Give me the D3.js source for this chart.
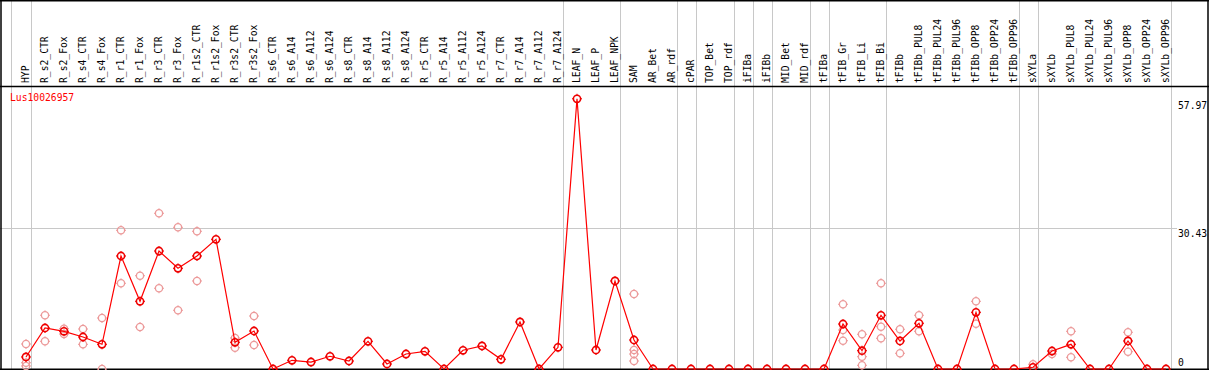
<!DOCTYPE html>
<html><head><meta charset="utf-8">
<script src="https://cdn.jsdelivr.net/npm/d3@7"></script>
<style>
html,body{margin:0;padding:0;background:#fff;}
svg{display:block;}
text{font-family:"DejaVu Sans Mono","Liberation Mono",monospace;font-size:9.7px;}
</style></head><body>
<svg id="c" width="1209" height="370"></svg>
<script>
const categories = ["HYP","R_s2_CTR","R_s2_Fox","R_s4_CTR","R_s4_Fox","R_r1_CTR","R_r1_Fox","R_r3_CTR","R_r3_Fox","R_r1s2_CTR","R_r1s2_Fox","R_r3s2_CTR","R_r3s2_Fox","R_s6_CTR","R_s6_A14","R_s6_A112","R_s6_A124","R_s8_CTR","R_s8_A14","R_s8_A112","R_s8_A124","R_r5_CTR","R_r5_A14","R_r5_A112","R_r5_A124","R_r7_CTR","R_r7_A14","R_r7_A112","R_r7_A124","LEAF_N","LEAF_P","LEAF_NPK","SAM","AR_Bet","AR_rdf","cPAR","TOP_Bet","TOP_rdf","iFIBa","iFIBb","MID_Bet","MID_rdf","tFIBa","tFIB_Gr","tFIB_Li","tFIB_Bi","tFIBb","tFIBb_PUL8","tFIBb_PUL24","tFIBb_PUL96","tFIBb_OPP8","tFIBb_OPP24","tFIBb_OPP96","sXYLa","sXYLb","sXYLb_PUL8","sXYLb_PUL24","sXYLb_PUL96","sXYLb_OPP8","sXYLb_OPP24","sXYLb_OPP96"];

const means = [2.6,8.87,8.15,6.92,5.34,24.44,14.64,25.52,21.78,24.44,28.05,5.78,8.22,0,1.88,1.51,2.75,1.73,5.99,1.08,3.24,3.83,0,4.05,4.98,2.1,10.17,0,4.69,58.45,4.11,19.04,6.27,0,0,0,0,0,0,0,0,0,0,9.73,3.96,11.62,6.06,9.89,0,0,12.26,0,0,0.37,3.89,5.34,0,0,6.06,0,0];

const replicates = [
  [5.41,1.36,0.65],[11.62,5.99],[8.72,7.57],[8.65,5.34],[11.03,0],
  [30.0,18.54],[20.18,9.08],[33.68,17.46],[30.65,12.7],[29.79,19.04],[],
  [6.71,4.61],[11.46,5.19],
  [],[],[],[],[],[],[],[],[],[],[],[],[],[],[],[],
  [],[],[],
  [16.22,4.11,3.24,1.73],
  [],[],[],[],[],[],[],[],[],[],
  [14.0,8.44,6.12],[7.51,2.66,0.8],[18.54,9.15,6.64],
  [8.59,3.40],[11.62,8.15],[],[],[14.64,9.8],[],[],
  [1.02],[3.24],[8.15,2.53],[],[],[7.94,3.74],[],[]
];

// categories after which a group separator is drawn
const groupEnds = ["HYP","R_r7_A124","LEAF_NPK","AR_rdf","cPAR","TOP_rdf","iFIBa","iFIBb","MID_rdf","tFIBa","tFIB_Bi","tFIBb_OPP96","sXYLa","sXYLb_OPP96"];
const tickValues = [0, 30.43, 57.97];
const geneName = "Lus10026957";

const W = 1209, H = 370;
const svg = d3.select("#c");
const x = d3.scalePoint().domain(categories).range([26, 1166]);
const y = d3.scaleLinear().domain([0, 57.97]).range([369, 101]);
const step = x.step();

// grey grid
const grid = svg.append("g").attr("stroke", "#c8c8c8").attr("stroke-width", 1);
grid.append("line").attr("x1", Math.round(x(categories[0]) - step + 4.5) - 0.5).attr("x2", Math.round(x(categories[0]) - step + 4.5) - 0.5)
  .attr("y1", 0).attr("y2", H);
groupEnds.forEach(c => {
  const gx = Math.round(x(c) + 4.5) + 0.5;
  grid.append("line").attr("x1", gx).attr("x2", gx).attr("y1", 0).attr("y2", H);
});
tickValues.filter(v => v > 0 && v < 57.97).forEach(v => {
  const gy = Math.round(y(v)) + 0.5;
  grid.append("line").attr("x1", 0).attr("x2", 1177).attr("y1", gy).attr("y2", gy);
});

// frame
const frame = svg.append("g").attr("stroke", "#000").attr("stroke-width", 1.5);
frame.append("line").attr("x1", 0).attr("x2", W).attr("y1", 0.75).attr("y2", 0.75);
frame.append("line").attr("x1", 0).attr("x2", W).attr("y1", 86.5).attr("y2", 86.5);
frame.append("line").attr("x1", 0).attr("x2", W).attr("y1", 369.25).attr("y2", 369.25);
frame.append("line").attr("x1", 1).attr("x2", 1).attr("y1", 0).attr("y2", H);
frame.append("line").attr("x1", 1208).attr("x2", 1208).attr("y1", 0).attr("y2", H);

// header labels
svg.append("g").selectAll("text").data(categories).join("text")
  .attr("transform", d => `translate(${x(d)},83) rotate(-90)`)
  .attr("dy", "0.35em").attr("fill", "#000").text(d => d);

// gene name
svg.append("text").attr("x", 10).attr("y", 101).attr("fill", "#ff0000").text(geneName);

// right tick labels
svg.append("g").selectAll("text").data(tickValues).join("text")
  .attr("x", 1178)
  .attr("y", d => d === 0 ? y(d) - 3 : y(d) + 1)
  .attr("dominant-baseline", d => d === 0 ? "alphabetic" : "hanging")
  .attr("fill", "#000").text(d => d === 0 ? "0" : d.toFixed(2));

const plot = svg.append("g");
function marker(g, cx, cy, color, sw) {
  g.append("circle").attr("cx", cx).attr("cy", cy).attr("r", 3.6)
    .attr("fill", "none").attr("stroke", color).attr("stroke-width", sw);
  const t = [[0,-3.6,0,-5],[0,3.6,0,5],[-3.6,0,-5,0],[3.6,0,5,0]];
  t.forEach(a => g.append("line").attr("x1", cx + a[0]).attr("y1", cy + a[1]).attr("x2", cx + a[2]).attr("y2", cy + a[3])
    .attr("stroke", color).attr("stroke-width", 1));
}
// replicates
categories.forEach((c, i) => {
  replicates[i].forEach(v => marker(plot, x(c), y(v), "#ec9a9a", 1.3));
});
// mean line
const line = d3.line().x((d, i) => x(categories[i])).y(d => y(d));
plot.append("path").datum(means).attr("d", line).attr("fill", "none").attr("stroke", "#ff0000").attr("stroke-width", 1.2);
// mean markers
categories.forEach((c, i) => marker(plot, x(c), y(means[i]), "#ee0000", 1.6));
</script>
</body></html>
